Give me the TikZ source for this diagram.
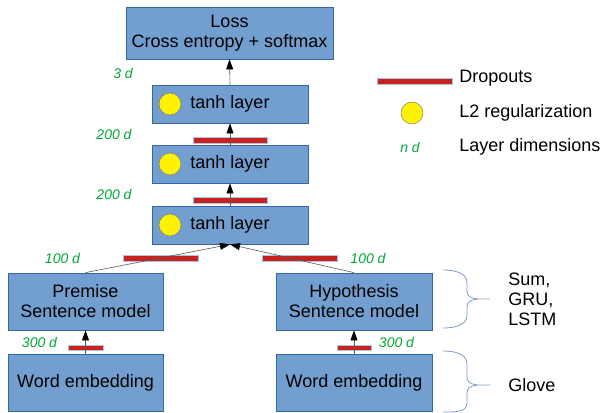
\documentclass[tikz,border=0pt]{standalone}
\usepackage{fontspec}
\setmainfont{Liberation Sans}
\usetikzlibrary{arrows.meta}
\definecolor{boxfill}{HTML}{729FCF}
\definecolor{boxline}{HTML}{3465A4}
\definecolor{dropred}{HTML}{C9211E}
\definecolor{dimgreen}{HTML}{00A933}
\definecolor{bracecol}{HTML}{7E9CC8}
\begin{document}
\begin{tikzpicture}[x=0.75pt,y=-0.75pt,
  font=\fontsize{13.5}{15}\selectfont,
  box/.style={draw=boxline, fill=boxfill, line width=0.6pt, inner sep=0pt, align=center},
  drop/.style={draw=boxfill!60!white, fill=dropred, line width=0.25pt, inner sep=0pt, minimum height=4pt},
  reg/.style={circle, draw=gray, fill=yellow, line width=0.4pt, minimum size=16.5pt, inner sep=0pt},
  dim/.style={text=dimgreen, font=\fontsize{10.5}{12}\selectfont\itshape, inner sep=0pt},
  conn/.style={draw=gray!70!black, line width=0.45pt, -{Triangle[length=7.5pt,width=5.2pt,color=black]}},
  brc/.style={draw=bracecol, line width=0.6pt},
  lab/.style={anchor=west, inner sep=0pt, align=left}]
\useasboundingbox (0,0) rectangle (601,412);
% boxes
\node[box, minimum width=207*0.75pt, minimum height=52*0.75pt] (loss) at (229.5,33) {Loss\\Cross entropy + softmax};
\node[box, minimum width=156*0.75pt, minimum height=38*0.75pt] (t1) at (230,104) {};
\node[box, minimum width=156*0.75pt, minimum height=38*0.75pt] (t2) at (230,164) {};
\node[box, minimum width=156*0.75pt, minimum height=38*0.75pt] (t3) at (230,225) {};
\node[inner sep=0pt] (t1l) at (230,104) {tanh layer};
\node[inner sep=0pt] (t2l) at (230,164) {tanh layer};
\node[inner sep=0pt] (t3l) at (230,225) {tanh layer};
\node[reg] (r1) at (170,104) {};
\node[reg] (r2) at (170,164) {};
\node[reg] (r3) at (170,225) {};
\node[box, minimum width=155*0.75pt, minimum height=57*0.75pt] (prem) at (85.5,301.5) {Premise\\Sentence model};
\node[box, minimum width=156*0.75pt, minimum height=57*0.75pt] (hyp) at (354,301.5) {Hypothesis\\Sentence model};
\node[box, minimum width=155*0.75pt, minimum height=57*0.75pt] (we1) at (85.5,382.5) {Word embedding};
\node[box, minimum width=156*0.75pt, minimum height=57*0.75pt] (we2) at (354,382.5) {Word embedding};
% dropouts
\node[drop, minimum width=74*0.75pt] (d1) at (230,140) {};
\node[drop, minimum width=74*0.75pt] (d2) at (230,200) {};
\node[drop, minimum width=75*0.75pt] (d3) at (160.5,258) {};
\node[drop, minimum width=75*0.75pt] (d4) at (299.5,258) {};
\node[drop, minimum width=35*0.75pt] (d5) at (85.5,347.5) {};
\node[drop, minimum width=34*0.75pt] (d6) at (354,347.5) {};
% connectors
\draw[conn] (t1.north) -- (loss.south);
\draw[conn] (t2.north) -- (t1.south);
\draw[conn] (t3.north) -- (t2.south);
\draw[conn] (prem.north) -- (t3.south);
\draw[conn] (hyp.north) -- (t3.south);
\draw[conn] (we1.north) -- (prem.south);
\draw[conn] (we2.north) -- (hyp.south);
% dimension labels
\node[dim] (l3) at (123,73) {3 d};
\node[dim] (l200a) at (114,134) {200 d};
\node[dim] (l200b) at (114,194) {200 d};
\node[dim] (l100a) at (62.5,258) {100 d};
\node[dim] (l100b) at (368,258) {100 d};
\node[dim] (l300a) at (39.5,342) {300 d};
\node[dim] (l300b) at (396.5,342) {300 d};
% legend
\node[drop, minimum width=75*0.75pt] (ld) at (414.5,81) {};
\node[lab] (ldt) at (459,78) {Dropouts};
\node[reg] (lr) at (412,113) {};
\node[lab] (lrt) at (459,113) {L2 regularization};
\node[dim] (ln) at (410,147) {n d};
\node[lab] (lnt) at (459,147) {Layer dimensions};
% braces
\draw[brc] (443,270) to[out=0,in=90] (467,283) -- (467,291) to[out=-90,in=180] (490,299)
  to[out=180,in=90] (467,307) -- (467,315) to[out=-90,in=0] (443,328);
\draw[brc] (443,351) to[out=0,in=90] (467,364) -- (467,377) to[out=-90,in=180] (490,385)
  to[out=180,in=90] (467,393) -- (467,403) to[out=-90,in=0] (443,412);
\node[lab] (sgl) at (508,299) {Sum,\\GRU,\\LSTM};
\node[lab] (glv) at (508,385) {Glove};
\end{tikzpicture}
\end{document}
